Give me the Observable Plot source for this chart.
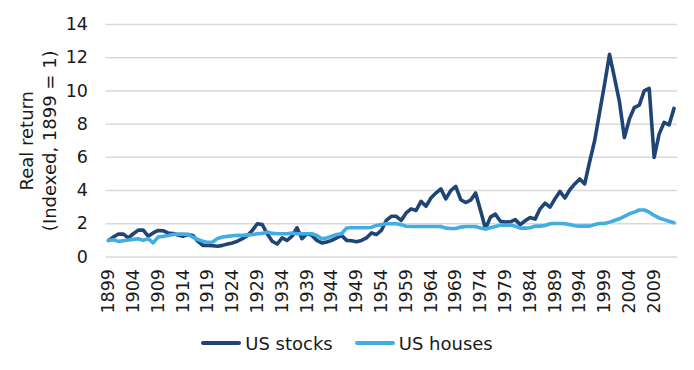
<!DOCTYPE html>
<html><head><meta charset="utf-8">
<script src="https://cdn.jsdelivr.net/npm/d3@7"></script>
<script src="https://cdn.jsdelivr.net/npm/@observablehq/plot@0.6"></script>
<style>
body{margin:0;background:#fff;font-family:"DejaVu Sans",Verdana,sans-serif;}
#legend{display:flex;justify-content:center;align-items:center;height:26px;margin-top:0px;font-size:18px;color:#1a1a1a;}
.item{display:flex;align-items:center;margin:0 11px;}
.sw{width:40px;height:4px;border-radius:2px;margin-right:4px;}
</style></head><body><div id="chart"></div><div id="legend"></div><script>
const startYear = 1899;
const stocks = [
 1.00,1.20,1.38,1.38,1.15,1.40,1.62,1.62,1.25,1.45,
 1.60,1.58,1.45,1.42,1.32,1.25,1.35,1.30,0.95,0.70,
 0.70,0.68,0.65,0.70,0.78,0.85,0.95,1.10,1.30,1.60,
 2.00,1.95,1.40,0.95,0.78,1.15,1.00,1.25,1.76,1.10,
 1.40,1.30,1.00,0.85,0.90,1.00,1.15,1.30,1.00,0.98,
 0.92,1.00,1.15,1.45,1.35,1.60,2.20,2.45,2.45,2.20,
 2.65,2.90,2.80,3.35,3.05,3.55,3.85,4.10,3.50,4.00,
 4.25,3.45,3.28,3.42,3.86,2.80,1.70,2.40,2.58,2.15,
 2.10,2.12,2.25,1.95,2.18,2.38,2.28,2.90,3.24,3.00,
 3.50,3.95,3.55,4.05,4.40,4.70,4.40,5.75,7.00,8.70,
 10.40,12.20,10.80,9.35,7.20,8.30,9.00,9.15,10.00,10.15,
 6.00,7.40,8.10,7.95,8.95
];
const houses = [
 1.00,1.04,0.94,0.98,1.02,1.06,1.10,1.00,1.10,0.85,
 1.20,1.24,1.30,1.35,1.38,1.38,1.36,1.20,1.05,0.95,
 0.88,0.90,1.12,1.20,1.24,1.28,1.30,1.30,1.33,1.35,
 1.40,1.42,1.50,1.42,1.40,1.40,1.40,1.45,1.40,1.40,
 1.40,1.40,1.30,1.10,1.15,1.25,1.35,1.40,1.75,1.76,
 1.76,1.76,1.76,1.78,1.90,1.95,2.00,2.00,2.00,1.95,
 1.85,1.84,1.84,1.84,1.84,1.84,1.84,1.84,1.74,1.72,
 1.72,1.80,1.84,1.84,1.84,1.74,1.68,1.76,1.84,1.92,
 1.92,1.92,1.85,1.74,1.74,1.76,1.86,1.86,1.90,2.00,
 2.02,2.02,2.00,1.95,1.88,1.86,1.86,1.86,1.95,2.02,
 2.02,2.10,2.20,2.30,2.45,2.60,2.70,2.83,2.83,2.70,
 2.50,2.35,2.25,2.15,2.06
];
const xTicks = [1899,1904,1909,1914,1919,1924,1929,1934,1939,1944,1949,1954,1959,1964,1969,1974,1979,1984,1989,1994,1999,2004,2009];
const yTicks = [0,2,4,6,8,10,12,14];
const seriesNames = ["US stocks","US houses"];
const colors = ["#1f4476","#41ade2"];
const titleLines = ["Real return","(Indexed, 1899 = 1)"];

const years = d3.range(startYear, startYear + stocks.length);
const rows = [];
[stocks, houses].forEach((vals, i) => vals.forEach((v, j) => rows.push({series: seriesNames[i], year: years[j], value: v})));

const chart = Plot.plot({
  width: 694, height: 330,
  marginLeft: 105.5, marginRight: 17, marginTop: 24, marginBottom: 73.5,
  x: {domain: [years[0], years[years.length-1]], insetLeft: 2.5, insetRight: 3.5},
  y: {domain: [0, 14]},
  color: {domain: seriesNames, range: colors},
  style: {fontFamily: "'DejaVu Sans', Verdana, sans-serif", fontSize: "17.5px", color: "#1a1a1a", background: "#fff"},
  marks: [
    Plot.gridY(yTicks, {stroke: "#d9d9d9", strokeOpacity: 1, strokeWidth: 1.5}),
    Plot.axisY(yTicks, {tickSize: 0, tickPadding: 18, label: null}),
    Plot.axisX(xTicks, {tickSize: 0, tickPadding: 12, tickRotate: -90, tickFormat: d => String(d), label: null}),
    Plot.line(rows, {x: "year", y: "value", z: "series", stroke: "series", strokeWidth: 3.6}),
    Plot.text([titleLines[0]], {text: d => d, frameAnchor: "left", textAnchor: "middle", rotate: -90, dx: -78.5, fontSize: 18}),
    Plot.text([titleLines[1]], {text: d => d, frameAnchor: "left", textAnchor: "middle", rotate: -90, dx: -55.5, fontSize: 18})
  ]
});
document.getElementById("chart").appendChild(chart);

const legend = document.getElementById("legend");
seriesNames.forEach((n, i) => {
  const it = document.createElement("div"); it.className = "item";
  const sw = document.createElement("div"); sw.className = "sw"; sw.style.background = colors[i];
  const tx = document.createElement("span"); tx.textContent = n;
  it.appendChild(sw); it.appendChild(tx); legend.appendChild(it);
});
</script></body></html>
